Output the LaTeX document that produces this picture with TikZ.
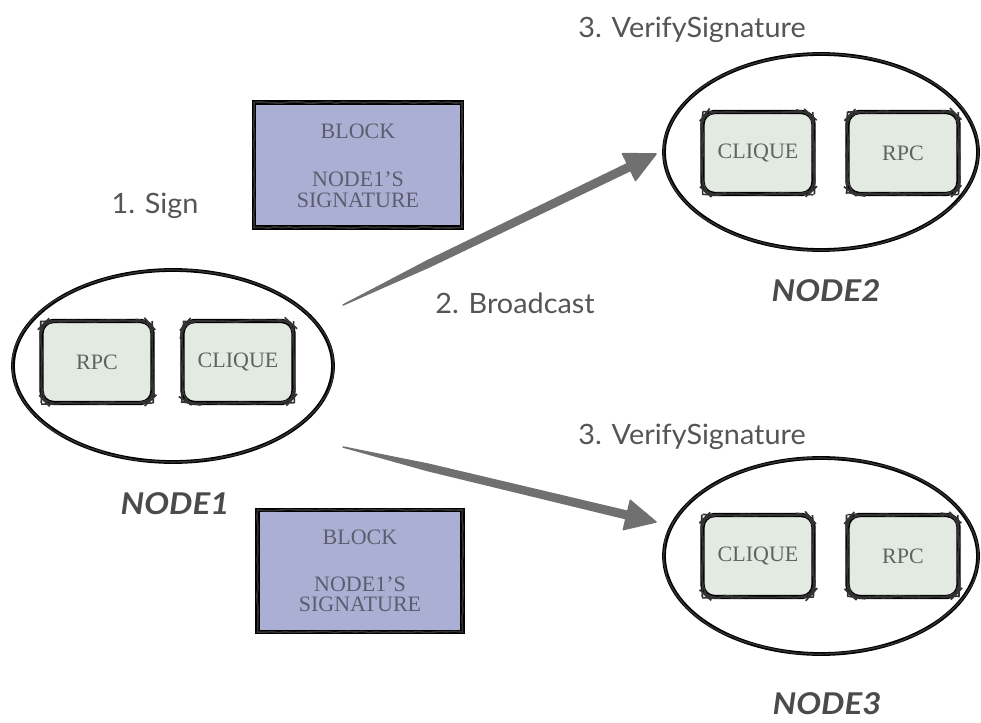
\documentclass[tikz,border=0pt]{standalone}
\usepackage{fontspec}
\setmainfont{Liberation Serif}
\setsansfont{Lato}[FakeStretch=1.03]
\newfontfamily\hostfont{Lato}[FakeStretch=1.1]
\usetikzlibrary{shapes.geometric,calc,decorations.pathmorphing}

\definecolor{modfill}{RGB}{227,234,226}
\definecolor{blockfill}{RGB}{171,175,212}
\definecolor{boxtext}{RGB}{95,98,100}
\definecolor{blocktext}{RGB}{92,94,110}
\definecolor{labelgrey}{RGB}{85,85,85}
\definecolor{namegrey}{RGB}{75,75,75}
\definecolor{arrowgrey}{RGB}{112,112,112}

\tikzset{
  sketch/.style={draw=black, line width=3.8pt,
    postaction={draw=black!80, line width=1.4pt, decorate,
      decoration={random steps, segment length=7pt, amplitude=0.6pt}}},
  heavysketch/.style={draw=black, line width=4.4pt,
    postaction={draw=black!80, line width=1.6pt, decorate,
      decoration={random steps, segment length=7pt, amplitude=0.7pt}}},
  host/.style={ellipse, sketch, inner sep=0pt},
  modbox/.style={heavysketch, fill=modfill, rounded corners=12pt,
    minimum width=111pt, minimum height=82pt, inner sep=0pt,
    font=\rmfamily\fontsize{22}{24}\selectfont, text=boxtext},
  blockbox/.style={heavysketch, fill=blockfill, inner sep=0pt},
  blocklabel/.style={align=center, text=blocktext,
    font=\rmfamily\fontsize{22}{20.5}\selectfont, inner sep=0pt},
  steplabel/.style={font=\sffamily\fontsize{28}{32}\selectfont, text=labelgrey},
  hostname/.style={font=\hostfont\bfseries\itshape\fontsize{30}{32}\selectfont, text=namegrey},
}

\begin{document}
\begin{tikzpicture}[x=1pt, y=-1pt]
\pgfmathsetseed{11}
\useasboundingbox (0,0) rectangle (981,722);

% ---- hosts ----
\node[host, minimum width=320pt, minimum height=192pt] (n1) at (173,366) {};
\node[host, minimum width=314pt, minimum height=196pt] (n2) at (821,152) {};
\node[host, minimum width=314pt, minimum height=196pt] (n3) at (821,556) {};

% ---- modules inside each host ----
\node[modbox] (n1rpc)    at (97,362)  {RPC};
\node[modbox] (n1clique) at (238,362) {CLIQUE};
\node[modbox] (n2clique) at (758,153) {CLIQUE};
\node[modbox] (n2rpc)    at (903,153) {RPC};
\node[modbox] (n3clique) at (758,556) {CLIQUE};
\node[modbox] (n3rpc)    at (903,556) {RPC};

% ---- signed blocks ----
\node[blockbox, minimum width=208pt, minimum height=125pt] (blk1) at (358,165) {};
\node[blocklabel] (blk1txt) at (358,166) {BLOCK\\[27.5pt]NODE1’S\\SIGNATURE};
\node[blockbox, minimum width=205pt, minimum height=122pt] (blk2) at (360,571) {};
\node[blocklabel] (blk2txt) at (360,571) {BLOCK\\[26pt]NODE1’S\\SIGNATURE};

% ---- step labels ----
\node[steplabel] (sign)    at (155,206) {1. Sign};
\node[steplabel] (bcast)   at (515,303) {2. Broadcast};
\node[steplabel] (verify2) at (692,30)  {3. VerifySignature};
\node[steplabel] (verify3) at (692,437) {3. VerifySignature};

% ---- host names ----
\node[hostname] (name1) at (175,504) {NODE1};
\node[hostname] (name2) at (826,291) {NODE2};
\node[hostname] (name3) at (827,704) {NODE3};

% ---- broadcast arrows: tapered shaft with a triangular head ----
\coordinate (a1s) at (343,305);
\coordinate (a1t) at (656,154);
\coordinate (a1b) at ($(a1t)!30pt!(a1s)$);
\coordinate (a1m) at ($(a1s)!0.3!(a1b)$);
\filldraw[arrowgrey, line width=1.5pt, line join=round]
  (a1s) -- ($(a1m)!3.2pt!90:(a1b)$) -- ($(a1b)!3.8pt!90:(a1t)$)
  -- ($(a1b)!15pt!90:(a1t)$) -- (a1t) -- ($(a1b)!15pt!-90:(a1t)$)
  -- ($(a1b)!3.8pt!-90:(a1t)$) -- ($(a1m)!3.2pt!-90:(a1b)$) -- cycle;

\coordinate (a2s) at (343,447);
\coordinate (a2t) at (656,522);
\coordinate (a2b) at ($(a2t)!30pt!(a2s)$);
\coordinate (a2m) at ($(a2s)!0.3!(a2b)$);
\filldraw[arrowgrey, line width=1.5pt, line join=round]
  (a2s) -- ($(a2m)!3.2pt!90:(a2b)$) -- ($(a2b)!3.8pt!90:(a2t)$)
  -- ($(a2b)!15pt!90:(a2t)$) -- (a2t) -- ($(a2b)!15pt!-90:(a2t)$)
  -- ($(a2b)!3.8pt!-90:(a2t)$) -- ($(a2m)!3.2pt!-90:(a2b)$) -- cycle;
\end{tikzpicture}
\end{document}
